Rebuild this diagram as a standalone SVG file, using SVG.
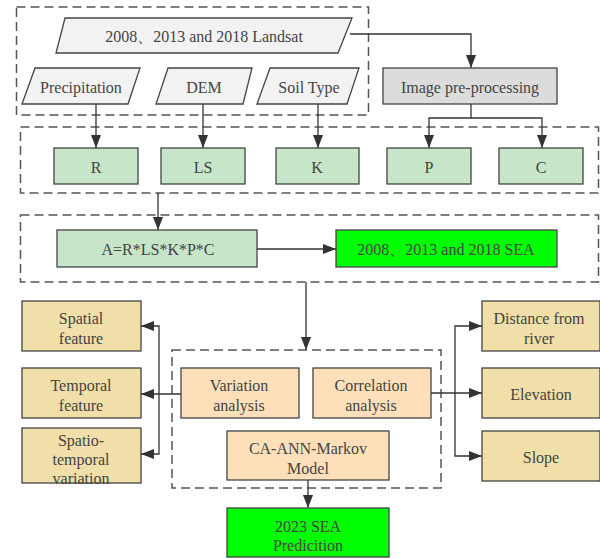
<svg xmlns="http://www.w3.org/2000/svg" width="600" height="559" viewBox="0 0 600 559" font-family="'Liberation Serif', serif">
<defs>
<marker id="ah" viewBox="0 0 13 10" refX="13" refY="5" markerWidth="13" markerHeight="10" markerUnits="userSpaceOnUse" orient="auto">
<path d="M0,0 L13,5 L0,10 Z" fill="#333"/>
</marker>
</defs>
<style>
text{font-family:'Liberation Serif','Times New Roman',serif;font-size:16px;fill:#444;text-anchor:middle;dominant-baseline:central}
.dash{fill:none;stroke:#555;stroke-width:1.5;stroke-dasharray:9,5}
.in{fill:#f2f2f2;stroke:#444;stroke-width:1.3}
.gray{fill:#dcdcdc;stroke:#444;stroke-width:1.3}
.lg{fill:#c6e5c9;stroke:#444;stroke-width:1.3}
.bg{fill:#00ff00;stroke:#444;stroke-width:1.3}
.pe{fill:#fde0b9;stroke:#444;stroke-width:1.3}
.wh{fill:#f0dfa8;stroke:#444;stroke-width:1.3}
.whf{fill:#f0dfa8;stroke:none}
.edge{fill:none;stroke:#444;stroke-width:1.3}
.c{fill:none;stroke:#333;stroke-width:1.3}
</style>
<rect width="600" height="559" fill="#fff"/>
<g id="groups">
<rect class="dash" x="16.5" y="7" width="352" height="108"/>
<rect class="dash" x="20.5" y="127" width="578" height="66"/>
<rect class="dash" x="20.5" y="215" width="578" height="67"/>
<rect class="dash" x="172" y="350" width="269" height="138"/>
</g>
<g id="connectors">
<path class="c" d="M350,34 H471 V68" marker-end="url(#ah)"/>
<path class="c" d="M96,104 V148" marker-end="url(#ah)"/>
<path class="c" d="M203,104 V148" marker-end="url(#ah)"/>
<path class="c" d="M318,104 V148" marker-end="url(#ah)"/>
<path class="c" d="M471,104 V118 H429 V148" marker-end="url(#ah)"/>
<path class="c" d="M471,118 H542 V148" marker-end="url(#ah)"/>
<path class="c" d="M158,193 V230" marker-end="url(#ah)"/>
<path class="c" d="M257,249 H336" marker-end="url(#ah)"/>
<path class="c" d="M306,282 V350" marker-end="url(#ah)"/>
<path class="c" d="M308,480 V508" marker-end="url(#ah)"/>
<path class="c" d="M181,394 H141" marker-end="url(#ah)"/>
<path class="c" d="M159,394 V326 H141" marker-end="url(#ah)"/>
<path class="c" d="M159,394 V454 H141" marker-end="url(#ah)"/>
<path class="c" d="M431,393 H482" marker-end="url(#ah)"/>
<path class="c" d="M455,393 V326 H482" marker-end="url(#ah)"/>
<path class="c" d="M455,393 V456 H482" marker-end="url(#ah)"/>
</g>
<g id="landsat"><path class="in" d="M65,18 H352 L338,53 H56 Z"/><text x="204" y="36">2008、2013 and 2018 Landsat</text></g>
<g id="precipitation"><path class="in" d="M35,68 H140 L128,104 H22 Z"/><text x="81" y="87">Precipitation</text></g>
<g id="dem"><path class="in" d="M168,68 H252 L243,104 H156 Z"/><text x="204" y="87">DEM</text></g>
<g id="soil"><path class="in" d="M270,68 H359 L347,104 H257 Z"/><text x="309" y="87">Soil Type</text></g>
<g id="preproc"><rect class="gray" x="383" y="68" width="174" height="36"/><text x="470" y="87">Image pre-processing</text></g>
<g id="R"><rect class="lg" x="54" y="148" width="84" height="36"/><text x="96" y="167">R</text></g>
<g id="LS"><rect class="lg" x="161" y="148" width="84" height="36"/><text x="203" y="167">LS</text></g>
<g id="K"><rect class="lg" x="276" y="148" width="83" height="36"/><text x="317" y="167">K</text></g>
<g id="P"><rect class="lg" x="387" y="148" width="84" height="36"/><text x="429" y="167">P</text></g>
<g id="C"><rect class="lg" x="499" y="148" width="84" height="36"/><text x="541" y="167">C</text></g>
<g id="formula"><rect class="lg" x="57" y="230" width="200" height="37"/><text x="158" y="249">A=R*LS*K*P*C</text></g>
<g id="sea"><rect class="bg" x="336" y="230" width="221" height="37"/><text x="446" y="249">2008、2013 and 2018 SEA</text></g>
<g id="variation"><rect class="pe" x="181" y="368" width="118" height="50"/><text x="239" y="385">Variation</text><text x="239" y="405">analysis</text></g>
<g id="correlation"><rect class="pe" x="313" y="368" width="118" height="50"/><text x="371" y="385">Correlation</text><text x="371" y="405">analysis</text></g>
<g id="caann"><rect class="pe" x="227" y="431" width="162" height="49"/><text x="308" y="448">CA-ANN-Markov</text><text x="308" y="468">Model</text></g>
<g id="pred"><rect class="bg" x="227" y="508" width="162" height="49"/><text x="308" y="526">2023 SEA</text><text x="308" y="545">Predicition</text></g>
<g id="spatial"><rect class="wh" x="22" y="301" width="119" height="50"/><text x="81" y="318">Spatial</text><text x="81" y="338">feature</text></g>
<g id="temporal"><rect class="wh" x="22" y="368" width="119" height="50"/><text x="81" y="385">Temporal</text><text x="81" y="405">feature</text></g>
<g id="spatiotemporal"><rect class="whf" x="22" y="428" width="119" height="55"/><text x="81" y="440">Spatio-</text><text x="81" y="459">temporal</text><text x="81" y="478">variation</text><rect class="edge" x="22" y="428" width="119" height="55"/></g>
<g id="distance"><rect class="wh" x="482" y="301" width="118" height="50"/><text x="539" y="318">Distance from</text><text x="539" y="338">river</text></g>
<g id="elevation"><rect class="wh" x="482" y="368" width="118" height="50"/><text x="541" y="394">Elevation</text></g>
<g id="slope"><rect class="wh" x="482" y="431" width="118" height="50"/><text x="541" y="457">Slope</text></g>
</svg>
